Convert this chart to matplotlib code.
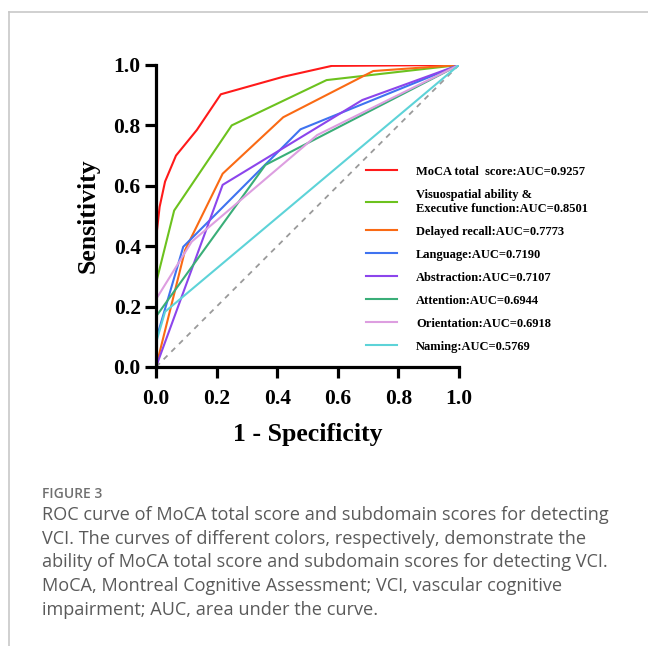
import numpy as np
import matplotlib.pyplot as plt
from matplotlib.lines import Line2D

# ROC points (1 - specificity, sensitivity)
moca_x = [0.0, 0.003, 0.012, 0.03, 0.066, 0.135, 0.214, 0.42, 0.58, 1.0]
moca_y = [0.0, 0.45, 0.53, 0.614, 0.70, 0.785, 0.903, 0.961, 0.997, 1.0]

visuo_x = [0.0, 0.0, 0.06, 0.25, 0.563, 1.0]
visuo_y = [0.0, 0.277, 0.518, 0.80, 0.95, 1.0]

recall_x = [0.0, 0.096, 0.22, 0.42, 0.717, 1.0]
recall_y = [0.0, 0.387, 0.64, 0.827, 0.98, 1.0]

lang_x = [0.0, 0.003, 0.09, 0.477, 1.0]
lang_y = [0.0, 0.10, 0.398, 0.787, 1.0]

abstr_x = [0.0, 0.22, 0.681, 1.0]
abstr_y = [0.0, 0.603, 0.884, 1.0]

atten_x = [0.0, 0.0, 0.361, 1.0]
atten_y = [0.0, 0.167, 0.669, 1.0]

orient_x = [0.0, 0.0, 0.118, 0.532, 1.0]
orient_y = [0.0, 0.224, 0.415, 0.768, 1.0]

naming_x = [0.0, 0.003, 0.03, 1.0]
naming_y = [0.0, 0.09, 0.183, 1.0]

labels = ["MoCA total  score:AUC=0.9257",
          "Visuospatial ability &\nExecutive function:AUC=0.8501",
          "Delayed recall:AUC=0.7773",
          "Language:AUC=0.7190",
          "Abstraction:AUC=0.7107",
          "Attention:AUC=0.6944",
          "Orientation:AUC=0.6918",
          "Naming:AUC=0.5769"]
colors = ["#ff1a1a", "#6cc21e", "#fa6a14", "#3f73f0", "#8c45ec",
          "#3aae78", "#dd9ee0", "#5dd3d8"]
curves = [(moca_x, moca_y), (visuo_x, visuo_y), (recall_x, recall_y),
          (lang_x, lang_y), (abstr_x, abstr_y), (atten_x, atten_y),
          (orient_x, orient_y), (naming_x, naming_y)]

serif = "Liberation Serif"

fig = plt.figure(figsize=(6.48, 6.46), dpi=100)
ax = fig.add_axes([0.2407, 0.4319, 0.4676, 0.4675])

# chance line
ax.plot([0, 1], [0, 1], color="#9a9a9a", lw=1.3, ls=(0, (3, 3)), zorder=1)

for (xs, ys), c, lab in zip(curves, colors, labels):
    ax.plot(xs, ys, color=c, lw=1.5, label=lab, zorder=2)

ax.set_xlim(0, 1)
ax.set_ylim(0, 1)
ax.set_xticks(np.arange(0, 1.01, 0.2))
ax.set_yticks(np.arange(0, 1.01, 0.2))
ax.set_xticklabels(["0.0", "0.2", "0.4", "0.6", "0.8", "1.0"])
ax.set_yticklabels(["0.0", "0.2", "0.4", "0.6", "0.8", "1.0"])
for s in ["top", "right"]:
    ax.spines[s].set_visible(False)
for s in ["left", "bottom"]:
    ax.spines[s].set_linewidth(2.3)
ax.tick_params(direction="out", length=8, width=2.3)
ax.tick_params(axis="x", pad=8)
ax.tick_params(axis="y", pad=3)
for t in ax.get_xticklabels() + ax.get_yticklabels():
    t.set_fontfamily(serif)
    t.set_fontweight("bold")
    t.set_fontsize(15.5)

ax.set_xlabel("1 - Specificity", fontfamily=serif, fontweight="bold",
              fontsize=18.5, labelpad=10)
ax.set_ylabel("Sensitivity", fontfamily=serif, fontweight="bold",
              fontsize=18.5, labelpad=10)

ax.legend(loc="upper left", bbox_to_anchor=(0.5648, 0.7434),
          bbox_transform=fig.transFigure, frameon=False, borderpad=0,
          borderaxespad=0, handlelength=2.5, handletextpad=1.5,
          labelspacing=0.88,
          prop={"family": serif, "weight": "bold", "size": 9})

# page frame lines
fig.add_artist(Line2D([9 / 648, 1], [1 - 12 / 646, 1 - 12 / 646],
                      transform=fig.transFigure, color="#c8c8c8", lw=1.2))
fig.add_artist(Line2D([9 / 648, 9 / 648], [0, 1 - 12 / 646],
                      transform=fig.transFigure, color="#c8c8c8", lw=1.2))

# caption
fig.text(42 / 648, 1 - 494 / 646, "FIGURE 3", fontfamily="Open Sans",
         fontsize=10, fontweight="semibold", color="#707070", va="center")
caption = ["ROC curve of MoCA total score and subdomain scores for detecting",
           "VCI. The curves of different colors, respectively, demonstrate the",
           "ability of MoCA total score and subdomain scores for detecting VCI.",
           "MoCA, Montreal Cognitive Assessment; VCI, vascular cognitive",
           "impairment; AUC, area under the curve."]
for i, line in enumerate(caption):
    fig.text(42 / 648, 1 - (515 + 23.7 * i) / 646, line, fontfamily="Open Sans",
             fontsize=13.1, color="#5a5a5a", va="center")

fig.savefig("out.png", dpi=100)
